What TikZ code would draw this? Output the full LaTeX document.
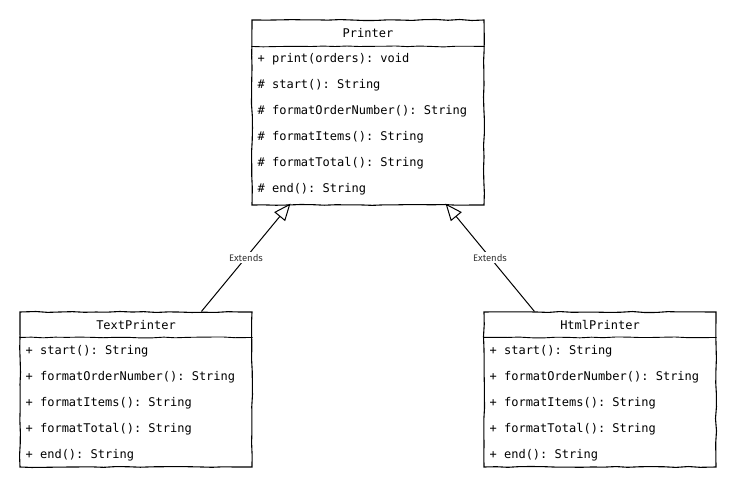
\documentclass[tikz,border=0pt]{standalone}
\usepackage{fontspec}
\setmonofont{DejaVu Sans Mono}
\setsansfont{Fira Sans}
\usetikzlibrary{arrows.meta,calc,decorations.pathmorphing}
\begin{document}
\pgfmathsetseed{7}
\begin{tikzpicture}[x=1pt,y=-1pt,
  sketch/.style={decorate,decoration={random steps,segment length=12pt,amplitude=0.5pt}},
  classbox/.style={draw=black,line width=1.1pt,minimum width=232pt,inner sep=0pt,rectangle,sketch},
  divider/.style={line width=0.9pt,sketch},
  title/.style={font=\ttfamily\fontsize{12}{14}\selectfont,inner sep=0pt},
  member/.style={font=\ttfamily\fontsize{12}{14}\selectfont,anchor=west,inner sep=0pt},
  extends/.style={line width=1pt,-{Triangle[open,length=17pt,width=14pt,line width=1pt]}},
  lbl/.style={fill=white,font=\sffamily\fontsize{9.5}{11}\selectfont,inner sep=1.5pt,text=black!80}]
\useasboundingbox (0,0) rectangle (737,492);

% class boxes
\node[classbox,minimum height=185pt] (printer) at (368,112.5) {};
\node[classbox,minimum height=155pt] (text) at (136,389.5) {};
\node[classbox,minimum height=155pt] (html) at (600,389.5) {};

% header dividers
\draw[divider] ($(printer.north west)+(0,27)$) -- ($(printer.north east)+(0,27)$);
\draw[divider] ($(text.north west)+(0,26)$) -- ($(text.north east)+(0,26)$);
\draw[divider] ($(html.north west)+(0,26)$) -- ($(html.north east)+(0,26)$);

% class names
\node[title] (printerT) at ($(printer.north)+(0,14)$) {Printer};
\node[title] (textT) at ($(text.north)+(0,14)$) {TextPrinter};
\node[title] (htmlT) at ($(html.north)+(0,14)$) {HtmlPrinter};

% members of Printer
\foreach \m [count=\i] in {{+ print(orders): void},{\# start(): String},{\# formatOrderNumber(): String},{\# formatItems(): String},{\# formatTotal(): String},{\# end(): String}}
  \node[member] (pm\i) at ($(printer.north west)+(6,14+26*\i)$) {\m};

% members of TextPrinter and HtmlPrinter
\foreach \m [count=\i] in {{+ start(): String},{+ formatOrderNumber(): String},{+ formatItems(): String},{+ formatTotal(): String},{+ end(): String}}{
  \node[member] (tm\i) at ($(text.north west)+(6,14+26*\i)$) {\m};
  \node[member] (hm\i) at ($(html.north west)+(6,14+26*\i)$) {\m};
}

% generalisation arrows
\draw[extends] ($(text.north west)+(182,0)$) -- node[lbl] (ext1) {Extends} ($(printer.south west)+(39,-2)$);
\draw[extends] ($(html.north west)+(51,0)$) -- node[lbl] (ext2) {Extends} ($(printer.south east)+(-39,-2)$);
\end{tikzpicture}
\end{document}
